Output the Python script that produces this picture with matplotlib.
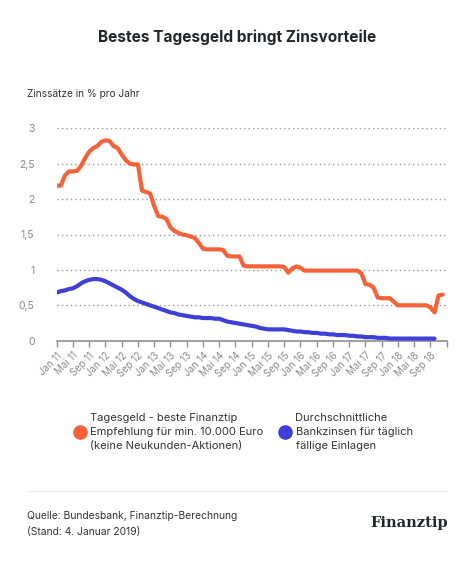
import matplotlib
matplotlib.use("Agg")
import matplotlib.pyplot as plt
from matplotlib.lines import Line2D

plt.rcParams['font.family'] = ['Inter', 'DejaVu Sans']

# ---- data (monthly, Jan 2011 = month 0) ----
tick_labels = ["Jan 11", "Mai 11", "Sep 11", "Jan 12", "Mai 12", "Sep 12",
               "Jan 13", "Mai 13", "Sep 13", "Jan 14", "Mai 14", "Sep 14",
               "Jan 15", "Mai 15", "Sep 15", "Jan 16", "Mai 16", "Sep 16",
               "Jan 17", "Mai 17", "Sep 17", "Jan 18", "Mai 18", "Sep 18"]

tagesgeld_best = [2.19, 2.19, 2.33, 2.39, 2.39, 2.40, 2.47, 2.58, 2.67, 2.72,
                  2.75, 2.81, 2.83, 2.82, 2.75, 2.72, 2.63, 2.55, 2.50, 2.49,
                  2.49, 2.12, 2.10, 2.08, 1.90, 1.76, 1.75, 1.72, 1.60, 1.55,
                  1.52, 1.50, 1.49, 1.47, 1.45, 1.38, 1.30, 1.29, 1.29, 1.29,
                  1.29, 1.28, 1.20, 1.19, 1.19, 1.19, 1.06, 1.05, 1.05, 1.05,
                  1.05, 1.05, 1.05, 1.05, 1.05, 1.05, 1.04, 0.96, 1.02, 1.05,
                  1.03, 0.99, 0.99, 0.99, 0.99, 0.99, 0.99, 0.99, 0.99, 0.99,
                  0.99, 0.99, 0.99, 0.99, 0.99, 0.95, 0.80, 0.79, 0.75, 0.61,
                  0.60, 0.60, 0.60, 0.55, 0.50, 0.50, 0.50, 0.50, 0.50, 0.50,
                  0.50, 0.50, 0.47, 0.40, 0.64, 0.65]

bank_avg = [0.68, 0.70, 0.71, 0.73, 0.74, 0.77, 0.81, 0.84, 0.86, 0.87,
            0.87, 0.86, 0.84, 0.81, 0.78, 0.75, 0.72, 0.68, 0.63, 0.59,
            0.56, 0.54, 0.52, 0.50, 0.48, 0.46, 0.44, 0.42, 0.40, 0.39,
            0.37, 0.36, 0.35, 0.34, 0.33, 0.33, 0.32, 0.32, 0.32, 0.31,
            0.31, 0.29, 0.27, 0.26, 0.25, 0.24, 0.23, 0.22, 0.21, 0.20,
            0.18, 0.17, 0.16, 0.16, 0.16, 0.16, 0.16, 0.15, 0.14, 0.13,
            0.13, 0.12, 0.12, 0.11, 0.11, 0.10, 0.10, 0.09, 0.09, 0.08,
            0.08, 0.08, 0.07, 0.07, 0.06, 0.06, 0.05, 0.05, 0.05, 0.04,
            0.04, 0.04, 0.03, 0.03, 0.03, 0.03, 0.03, 0.03, 0.03, 0.03,
            0.03, 0.03, 0.03, 0.03]

y_ticks = [0, 0.5, 1, 1.5, 2, 2.5, 3]
y_tick_labels = ["0", "0,5", "1", "1,5", "2", "2,5", "3"]

legend_orange = "Tagesgeld - beste Finanztip\nEmpfehlung für min. 10.000 Euro\n(keine Neukunden-Aktionen)"
legend_blue = "Durchschnittliche\nBankzinsen für täglich\nfällige Einlagen"

ORANGE = "#F4623A"
BLUE = "#3D3FD6"
GRAY = "#8a8a8a"
DARK = "#22262b"

W, H = 474, 565
fig = plt.figure(figsize=(W / 100, H / 100), dpi=100)
fig.patch.set_facecolor("white")

ax = fig.add_axes([56.7 / W, 1 - 340.7 / H, (446.7 - 56.7) / W, (340.7 - 128.3) / H])
ax.set_facecolor("white")

months_o = list(range(len(tagesgeld_best)))
months_b = list(range(len(bank_avg)))
ax.plot(months_o, tagesgeld_best, color=ORANGE, lw=3.0, solid_capstyle="round",
        solid_joinstyle="round", zorder=3)
ax.plot(months_b, bank_avg, color=BLUE, lw=3.0, solid_capstyle="round",
        solid_joinstyle="round", zorder=3)

ax.set_xlim(0, 96)
ax.set_ylim(0, 3)
ax.set_yticks(y_ticks)
ax.set_yticklabels(y_tick_labels)
ax.set_xticks(list(range(0, 4 * len(tick_labels), 4)) + [96])
ax.set_xticklabels(tick_labels + [""], rotation=45, ha="right", rotation_mode="anchor")

for v in y_ticks[1:]:
    ax.axhline(v, color="#9a9a9a", lw=1.0, ls=(0, (1, 2.2)), zorder=1)

for s in ["top", "right", "left"]:
    ax.spines[s].set_visible(False)
ax.spines["bottom"].set_color("#8f8f8f")
ax.spines["bottom"].set_linewidth(1.2)
ax.tick_params(axis="x", colors="#8f8f8f", length=4, width=1, labelcolor=GRAY,
               labelsize=7, pad=3)
ax.tick_params(axis="y", length=0, labelcolor=GRAY, labelsize=7.5, pad=16)

# Title and axis label
fig.text(237 / W, 1 - 37 / H, "Bestes Tagesgeld bringt Zinsvorteile", ha="center",
         va="center", fontsize=11.1, fontweight="bold", color=DARK)
fig.text(26.7 / W, 1 - 94 / H, "Zinssätze in % pro Jahr", ha="left", va="center",
         fontsize=7.3, color="#333333")

# Legend
fig.add_artist(Line2D([80 / W], [1 - 432 / H], marker="o", markersize=9.5,
                      color=ORANGE, transform=fig.transFigure))
fig.text(90 / W, 1 - 432 / H, legend_orange, ha="left", va="center", fontsize=8,
         color="#333333", linespacing=1.55)
fig.add_artist(Line2D([285 / W], [1 - 432 / H], marker="o", markersize=9.5,
                      color=BLUE, transform=fig.transFigure))
fig.text(295.5 / W, 1 - 432 / H, legend_blue, ha="left", va="center", fontsize=8,
         color="#333333", linespacing=1.55)

# Separator
fig.add_artist(Line2D([27 / W, 447 / W], [1 - 491 / H, 1 - 491 / H], color="#eeeeee",
                      lw=1, transform=fig.transFigure))

# Source
fig.text(26.7 / W, 1 - 524 / H, "Quelle: Bundesbank, Finanztip-Berechnung\n(Stand: 4. Januar 2019)",
         ha="left", va="center", fontsize=7.4, color="#333333", linespacing=1.65)
fig.text(448 / W, 1 - 523 / H, "Finanztip", ha="right", va="center", fontsize=10.5,
         fontweight="bold", family="DejaVu Serif", color=DARK)

fig.savefig("out.png", dpi=100, facecolor="white")
